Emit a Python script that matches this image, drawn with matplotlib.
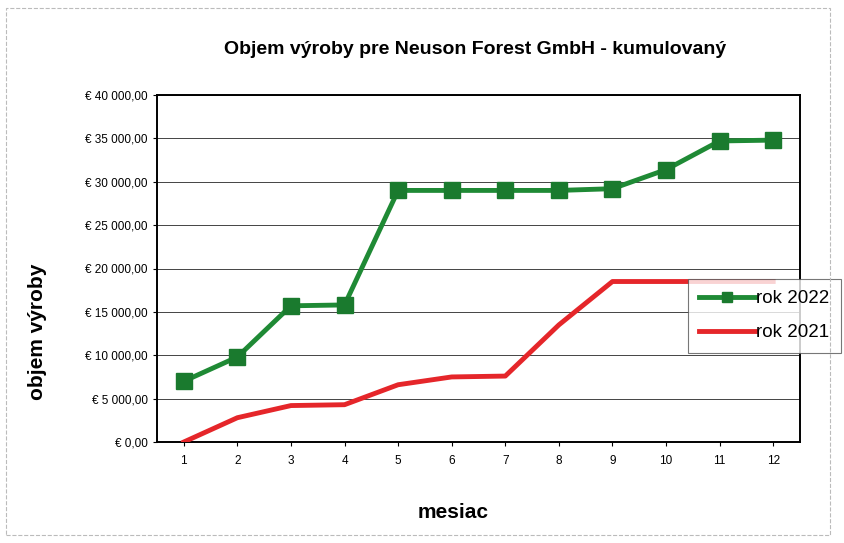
import matplotlib.pyplot as plt
from matplotlib.ticker import FuncFormatter, MultipleLocator
from matplotlib.patches import Rectangle

plt.rcParams['font.family'] = ['Liberation Sans', 'DejaVu Sans']

# data
months = [1, 2, 3, 4, 5, 6, 7, 8, 9, 10, 11, 12]
rok_2022 = [7000, 9800, 15700, 15800, 29000, 29000, 29000, 29000, 29200, 31400, 34700, 34800]
rok_2021 = [0, 2800, 4200, 4300, 6600, 7500, 7600, 13500, 18500, 18500, 18500, 18500]
labels = ["rok 2022", "rok 2021"]

fig = plt.figure(figsize=(8.45, 5.43), dpi=100)
ax = fig.add_axes([157/845, 1 - 442/543, 643/845, 347/543])

# outer chart frame
fig.patches.append(Rectangle((6/845, 8/543), 824/845, 527/543, transform=fig.transFigure,
                             fill=False, edgecolor="#bbbbbb", linewidth=0.8, linestyle="--"))

ax.plot(months, rok_2022, color="#1f8a35", linewidth=3.5, marker="s", markersize=12,
        markerfacecolor="#1a7a2e", markeredgecolor="#1a7a2e", label=labels[0], zorder=3)
ax.plot(months, rok_2021, color="#e5262a", linewidth=3.5, label=labels[1], zorder=3)

ax.set_xlim(0.5, 12.5)
ax.set_ylim(0, 40000)
ax.set_xticks(months)
ax.yaxis.set_major_locator(MultipleLocator(5000))


def euro(v, pos):
    s = f"{v:,.2f}".replace(",", " ").replace(".", ",")
    return "€ " + s


ax.yaxis.set_major_formatter(FuncFormatter(euro))
ax.tick_params(axis="both", labelsize=8.5, length=3, width=0.8)
ax.tick_params(axis="x", pad=6)
ax.grid(axis="y", color="#444444", linewidth=0.7)
ax.set_axisbelow(True)
for sp in ax.spines.values():
    sp.set_linewidth(1.4)

fig.text(475/845, 1 - 50/543, "Objem výroby pre Neuson Forest GmbH - kumulovaný",
         ha="center", va="center", fontsize=14, fontweight="bold")
fig.text(38/845, 1 - 332/543, "objem výroby", rotation=90, ha="center", va="center",
         fontsize=15, fontweight="bold")
fig.text(453/845, 1 - 512/543, "mesiac", ha="center", va="center",
         fontsize=15, fontweight="bold")

leg = ax.legend(loc="upper left", bbox_to_anchor=(688/845, 1 - 279/543),
                bbox_transform=fig.transFigure, fontsize=13.5, frameon=True,
                fancybox=False, handlelength=3.0, handletextpad=0.05,
                labelspacing=0.9, borderpad=0.6, borderaxespad=0)
leg.get_frame().set_edgecolor("#555555")
leg.get_frame().set_linewidth(0.8)
for h in leg.legend_handles:
    h.set_markersize(7)

fig.savefig("out.png", dpi=100)
